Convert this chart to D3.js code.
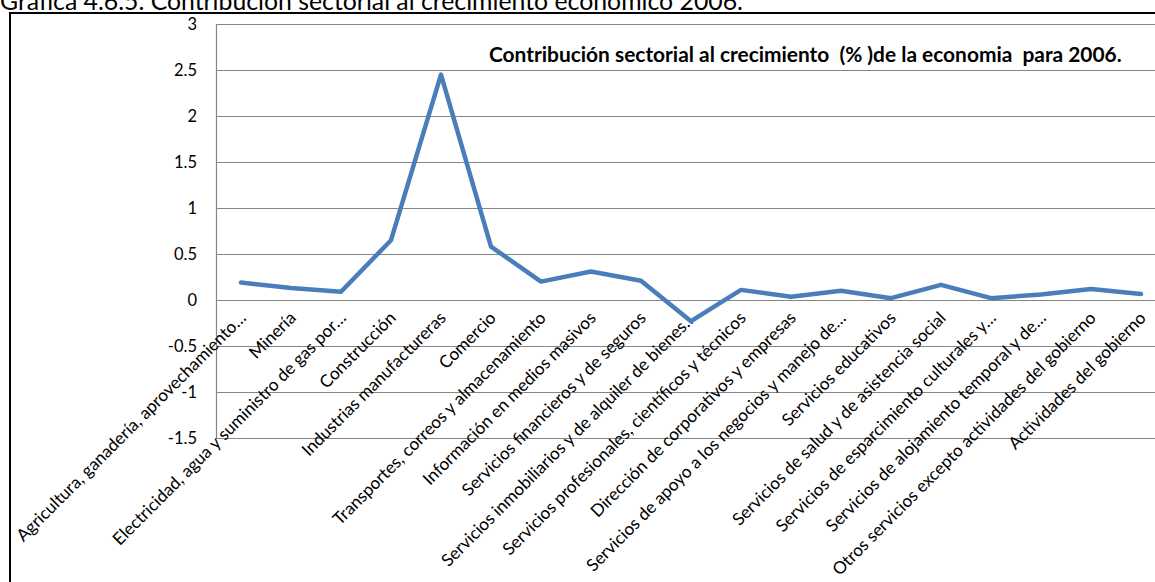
<!DOCTYPE html>
<html>
<head>
<meta charset="utf-8">
<script src="https://cdn.jsdelivr.net/npm/d3@7"></script>
<style>
  body { margin: 0; background: #fff; }
  svg { display: block; font-family: Lato, "Liberation Sans", sans-serif; }
  text { white-space: pre; }
</style>
</head>
<body>
<svg id="chart" width="1155" height="582"></svg>
<script>
// Sector names (as abbreviated on the axis)
const categories = [
  "Agricultura, ganadería, aprovechamiento…",
  "Minería",
  "Electricidad, agua y suministro de gas por…",
  "Construcción",
  "Industrias manufactureras",
  "Comercio",
  "Transportes, correos y almacenamiento",
  "Información en medios masivos",
  "Servicios financieros y de seguros",
  "Servicios inmobiliarios y de alquiler de bienes…",
  "Servicios profesionales, científicos y técnicos",
  "Dirección de corporativos y empresas",
  "Servicios de apoyo a los negocios y manejo de…",
  "Servicios educativos",
  "Servicios de salud y de asistencia social",
  "Servicios de esparcimiento culturales y…",
  "Servicios de alojamiento temporal y de…",
  "Otros servicios excepto actividades del gobierno",
  "Actividades del gobierno"
];

// Contribution to growth, percentage points
const values = [0.19, 0.13, 0.09, 0.65, 2.45, 0.58, 0.20, 0.31, 0.21, -0.23,
                0.11, 0.035, 0.10, 0.02, 0.165, 0.02, 0.06, 0.12, 0.065];

const yTicks = [-1.5, -1, -0.5, 0, 0.5, 1, 1.5, 2, 2.5, 3];
const yTickLabels = ["-1.5", "-1", "-0.5", "0", "0.5", "1", "1.5", "2", "2.5", "3"];

const pageTitle = "Gráfica 4.6.5. Contribución sectorial al crecimiento económico 2006.";
const chartTitle = "Contribución sectorial al crecimiento  (% )de la economia  para 2006.";

const svg = d3.select("#chart");

const plot = { left: 216, top: 24, step: 50, bottom: 438 };
const plotRight = plot.left + plot.step * categories.length;

const x = d3.scaleBand().domain(categories).range([plot.left, plotRight]);
const y = d3.scaleLinear().domain([yTicks[0], yTicks[yTicks.length - 1]]).range([plot.bottom, plot.top]);

// Page heading above the chart frame
svg.append("text")
  .attr("x", 0).attr("y", 10)
  .attr("font-size", 24.8)
  .attr("fill", "#000")
  .text(pageTitle);

// Chart frame
svg.append("rect")
  .attr("x", 10).attr("y", 13)
  .attr("width", 1300).attr("height", 700)
  .attr("fill", "#fff")
  .attr("stroke", "#000")
  .attr("stroke-width", 2);

// Horizontal gridlines
svg.append("g")
  .selectAll("line")
  .data(yTicks)
  .join("line")
  .attr("x1", plot.left).attr("x2", plotRight)
  .attr("y1", d => Math.round(y(d)) + 0.5).attr("y2", d => Math.round(y(d)) + 0.5)
  .attr("stroke", "#868686")
  .attr("stroke-width", 1.2);

// Value axis line
svg.append("line")
  .attr("x1", plot.left + 0.5).attr("x2", plot.left + 0.5)
  .attr("y1", plot.top).attr("y2", plot.bottom)
  .attr("stroke", "#868686")
  .attr("stroke-width", 1.2);

// Value axis labels
svg.append("g")
  .selectAll("text")
  .data(yTicks)
  .join("text")
  .attr("x", 197)
  .attr("y", d => y(d))
  .attr("dy", "0.35em")
  .attr("text-anchor", "end")
  .attr("font-size", 16.5)
  .attr("fill", "#000")
  .text((d, i) => yTickLabels[i]);

// Category labels, slanted, hanging below the zero line
svg.append("g")
  .selectAll("text")
  .data(categories)
  .join("text")
  .attr("transform", d => `translate(${x(d) + x.bandwidth() / 2 + 6},${y(0) + 19}) rotate(-45)`)
  .attr("text-anchor", "end")
  .attr("font-size", 17.2)
  .attr("fill", "#000")
  .text(d => d);

// Series line
const line = d3.line()
  .x((d, i) => x(categories[i]) + x.bandwidth() / 2)
  .y(d => y(d));

svg.append("path")
  .datum(values)
  .attr("d", line)
  .attr("fill", "none")
  .attr("stroke", "#4a7ebb")
  .attr("stroke-width", 4.5)
  .attr("stroke-linejoin", "round")
  .attr("stroke-linecap", "round");

// Chart title inside the plot
svg.append("text")
  .attr("x", 489).attr("y", 62)
  .attr("font-size", 20.9)
  .attr("font-weight", "bold")
  .attr("fill", "#000")
  .text(chartTitle);
</script>
</body>
</html>
